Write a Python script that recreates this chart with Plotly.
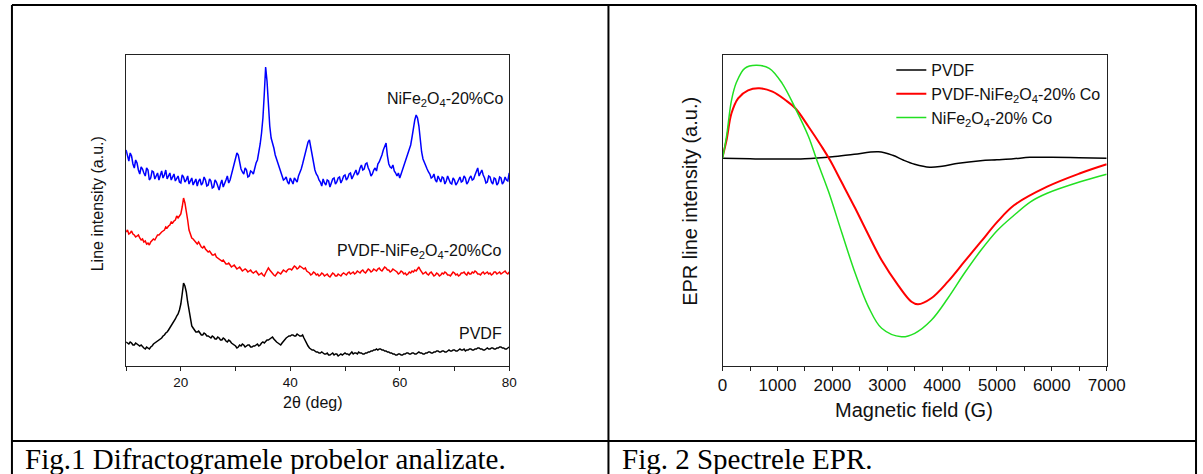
import numpy as np
import plotly.graph_objects as go

# ===== canvas =====
# positions below are given in reference pixels (1203 x 474) and turned into paper fractions
REF_W, REF_H = 1203, 474
W, H = 1218, 474


def px(x):
    return x / REF_W


def py(y):
    return 1 - y / REF_H


# ===== Fig.1 XRD data (a.u.), 2theta from 10 to 80 deg every 0.25 deg =====
two_theta = np.round(np.arange(10, 80.001, 0.25), 2)

xrd_ferrite = [
    216, 209, 205, 213, 210, 202, 198, 206, 203, 196,
    192, 199, 197, 193, 190, 198, 196, 186, 188, 195,
    194, 187, 190, 193, 186, 191, 195, 188, 191, 196,
    187, 190, 193, 186, 189, 192, 185, 188, 190, 184,
    183, 191, 189, 184, 186, 190, 182, 185, 188, 181,
    184, 187, 180, 185, 187, 181, 183, 189, 186, 180,
    181, 187, 185, 178, 179, 186, 184, 180, 176, 182,
    186, 179, 182, 186, 190, 183, 186, 191, 196, 201,
    206, 213, 211, 203, 197, 194, 192, 198, 196, 189,
    190, 195, 194, 192, 198, 203, 206, 213, 222, 233,
    248, 272, 299, 285, 258, 240, 228, 224, 218, 211,
    207, 201, 198, 193, 191, 186, 187, 189, 184, 182,
    188, 184, 182, 188, 186, 184, 190, 193, 197, 202,
    207, 212, 219, 224, 226, 218, 208, 201, 196, 192,
    190, 186, 184, 180, 187, 183, 181, 186, 185, 179,
    183, 187, 188, 182, 184, 188, 189, 183, 186, 190,
    191, 186, 188, 192, 193, 187, 190, 194, 196, 191,
    193, 198, 201, 196, 197, 202, 203, 198, 195, 190,
    192, 196, 198, 195, 202, 204, 207, 211, 216, 220,
    223, 210, 202, 199, 198, 201, 195, 193, 190, 193,
    188, 192, 196, 199, 203, 208, 212, 216, 221, 229,
    238, 246, 251, 248, 240, 226, 214, 207, 203, 199,
    197, 194, 192, 188, 189, 192, 186, 184, 190, 187,
    184, 189, 188, 182, 185, 190, 187, 183, 182, 188,
    186, 181, 183, 187, 189, 184, 185, 190, 188, 182,
    184, 188, 190, 186, 187, 191, 194, 198, 190, 193,
    196, 191, 188, 183, 184, 190, 189, 184, 182, 188,
    187, 181, 183, 189, 188, 182, 184, 189, 186, 185,
    193,
]

xrd_composite = [
    134, 136, 132, 133, 135, 132, 131, 129, 130, 131,
    128, 126, 127, 124, 125, 122, 123, 121, 124, 126,
    127, 126, 129, 131, 131, 133, 134, 135, 136, 139,
    138, 140, 141, 144, 143, 145, 146, 150, 148, 150,
    152, 159, 168, 163, 156, 146, 136, 131, 128, 127,
    125, 123, 122, 124, 121, 119, 118, 120, 117, 115,
    114, 115, 113, 111, 111, 112, 109, 108, 107, 106,
    105, 106, 104, 102, 102, 103, 101, 99, 100, 101,
    99, 97, 98, 99, 97, 95, 96, 97, 96, 94,
    95, 96, 94, 93, 94, 95, 93, 91, 92, 93,
    91, 90, 93, 95, 98, 96, 94, 92, 91, 90,
    92, 94, 93, 92, 94, 96, 95, 94, 96, 97,
    97, 96, 98, 100, 99, 97, 98, 100, 99, 98,
    97, 98, 95, 94, 93, 91, 92, 94, 93, 91,
    92, 90, 91, 93, 92, 90, 91, 92, 90, 89,
    91, 93, 92, 90, 90, 92, 91, 90, 92, 93,
    92, 91, 93, 94, 92, 93, 94, 92, 93, 95,
    94, 93, 95, 96, 94, 93, 95, 97, 96, 94,
    95, 97, 96, 95, 97, 98, 96, 95, 97, 99,
    98, 96, 96, 94, 95, 97, 96, 95, 94, 92,
    93, 95, 94, 92, 93, 91, 92, 94, 93, 95,
    94, 96, 95, 97, 99, 96, 94, 92, 93, 94,
    92, 91, 93, 94, 92, 90, 91, 93, 92, 90,
    91, 93, 92, 94, 93, 91, 91, 90, 92, 94,
    93, 91, 92, 90, 91, 93, 93, 94, 92, 91,
    94, 92, 92, 94, 93, 95, 94, 92, 92, 91,
    93, 94, 92, 93, 94, 92, 93, 91, 92, 94,
    94, 92, 93, 94, 92, 93, 94, 95, 93, 92,
    94,
]

xrd_pvdf = [
    24, 23, 22, 24, 23, 21, 21, 23, 22, 21,
    20, 21, 19, 18, 17, 19, 18, 17, 19, 20,
    22, 23, 24, 25, 26, 27, 28, 30, 31, 33,
    34, 36, 38, 41, 43, 44, 47, 50, 52, 56,
    62, 72, 83, 80, 74, 64, 55, 46, 40, 38,
    36, 34, 34, 35, 33, 31, 31, 33, 32, 30,
    30, 29, 28, 30, 29, 27, 27, 29, 28, 26,
    26, 28, 27, 25, 24, 26, 25, 23, 22, 21,
    20, 18, 19, 21, 20, 22, 21, 19, 20, 21,
    21, 19, 19, 20, 20, 21, 22, 20, 21, 23,
    24, 23, 25, 26, 26, 27, 28, 29, 27, 25,
    24, 23, 22, 21, 23, 25, 27, 28, 29, 30,
    30, 31, 31, 30, 30, 32, 31, 30, 30, 31,
    28, 25, 22, 20, 18, 17, 16, 16, 15, 14,
    14, 13, 13, 14, 13, 12, 12, 13, 11, 11,
    12, 13, 11, 12, 12, 10, 11, 12, 11, 12,
    13, 12, 12, 11, 13, 14, 12, 13, 13, 12,
    14, 13, 13, 12, 12, 13, 13, 14, 14, 15,
    15, 16, 16, 17, 16, 17, 17, 16, 16, 15,
    15, 14, 14, 13, 13, 12, 12, 11, 11, 12,
    12, 11, 11, 12, 12, 13, 13, 12, 12, 13,
    13, 12, 12, 13, 14, 13, 13, 12, 12, 13,
    13, 14, 14, 13, 13, 14, 14, 15, 15, 14,
    14, 15, 15, 14, 14, 15, 16, 15, 15, 16,
    16, 15, 15, 16, 17, 16, 16, 17, 15, 16,
    16, 17, 17, 16, 16, 17, 17, 18, 18, 17,
    17, 16, 16, 17, 18, 17, 17, 18, 18, 17,
    17, 18, 18, 19, 19, 18, 18, 17, 17, 18,
    19,
]

# ===== Fig.2 EPR data (a.u.) =====
epr_pvdf_field = [0, 500, 1000, 1500, 2000, 2400, 2840, 3100, 3300, 3500,
                  3775, 4000, 4300, 4700, 5000, 5300, 5600, 6000, 6500, 7000]
epr_pvdf = [0, -0.5, -0.8, -0.5, 1.5, 4, 6.5, 3, -2, -6,
            -9, -8, -5, -2.5, -1.5, -0.5, 1, 1, 0.5, 0]

epr_comp_field = [0, 71, 162, 283, 464, 669, 910, 1150, 1326, 1567,
                  1808, 1959, 2170, 2417, 2598, 2899, 3200, 3442, 3562, 3803,
                  4105, 4406, 4708, 5010, 5311, 5915, 6517, 7000]
epr_comp = [1.5, 18, 45, 60, 68, 70, 66.6, 58, 50, 31.6,
            11.6, -2, -24, -50, -70, -102, -127, -143.4, -146, -140,
            -123.4, -103.4, -83.4, -63.4, -47, -28.4, -15, -6]

epr_ferr_field = [0, 71, 162, 253, 404, 609, 850, 1085, 1326, 1567,
                  1718, 1929, 2176, 2417, 2658, 2899, 3261, 3502, 3803, 4105,
                  4406, 4708, 5010, 5311, 5612, 5915, 6517, 7000]
epr_ferr = [0, 21.6, 58, 76, 90, 93, 90, 75, 50, 21.6,
            -2, -33, -75, -115, -148.5, -170, -178.5, -175, -162, -140,
            -115, -92, -72, -57, -43.5, -35, -23.5, -16]

SANS = "Liberation Sans, Arial, sans-serif"
SERIF = "Liberation Serif, Times New Roman, serif"

fig = go.Figure()

# ----- XRD traces -----
fig.add_trace(go.Scatter(x=two_theta, y=xrd_ferrite, mode="lines",
                         line=dict(color="#0000ff", width=1.5),
                         showlegend=False, xaxis="x", yaxis="y"))
fig.add_trace(go.Scatter(x=two_theta, y=xrd_composite, mode="lines",
                         line=dict(color="#ff0000", width=1.5),
                         showlegend=False, xaxis="x", yaxis="y"))
fig.add_trace(go.Scatter(x=two_theta, y=xrd_pvdf, mode="lines",
                         line=dict(color="#000000", width=1.5),
                         showlegend=False, xaxis="x", yaxis="y"))

# ----- EPR traces -----
fig.add_trace(go.Scatter(x=epr_pvdf_field, y=epr_pvdf, mode="lines", name="PVDF",
                         line=dict(color="#000000", width=1.5, shape="spline"),
                         xaxis="x2", yaxis="y2"))
fig.add_trace(go.Scatter(x=epr_comp_field, y=epr_comp, mode="lines",
                         name="PVDF-NiFe<sub>2</sub>O<sub>4</sub>-20% Co",
                         line=dict(color="#ff0000", width=2, shape="spline"),
                         xaxis="x2", yaxis="y2"))
fig.add_trace(go.Scatter(x=epr_ferr_field, y=epr_ferr, mode="lines",
                         name="NiFe<sub>2</sub>O<sub>4</sub>-20% Co",
                         line=dict(color="#22e022", width=1.5, shape="spline"),
                         xaxis="x2", yaxis="y2"))

frame = dict(showline=True, linecolor="#222", linewidth=1, mirror=True,
             showgrid=False, zeroline=False)

fig.update_layout(
    width=W, height=H, autosize=False,
    margin=dict(l=0, r=0, t=0, b=0),
    paper_bgcolor="white", plot_bgcolor="white",
    font=dict(family=SANS, size=13, color="#111"),
    xaxis=dict(domain=[px(122), px(508)], range=[10, 80], anchor="y",
               tick0=0, dtick=20, ticks="outside", ticklen=4, tickcolor="#222",
               minor=dict(dtick=10, ticks="outside", ticklen=4, tickcolor="#222"),
               tickfont=dict(size=13.5), **frame),
    yaxis=dict(domain=[py(366), py(55)], range=[0, 311], anchor="x",
               showticklabels=False, ticks="", **frame),
    xaxis2=dict(domain=[px(723), px(1110)], range=[0, 7000], anchor="y2",
                tick0=0, dtick=1000, ticks="outside", ticklen=4, tickcolor="#222",
                minor=dict(dtick=500, ticks="outside", ticklen=4, tickcolor="#222"),
                tickfont=dict(size=17), **frame),
    yaxis2=dict(domain=[py(366), py(55)], range=[-207.7, 103.3], anchor="x2",
                showticklabels=False, ticks="", **frame),
    legend=dict(x=px(893), y=py(53), xanchor="left", yanchor="top",
                bgcolor="rgba(0,0,0,0)", font=dict(size=16, family=SANS),
                itemwidth=30, tracegroupgap=0),
)

# ----- axis titles and curve labels -----
notes = [
    dict(x=px(93), y=py(204), text="Line intensity (a.u.)", textangle=-90, size=16),
    dict(x=px(310), y=py(402), text="2θ (deg)", textangle=0, size=16),
    dict(x=px(690), y=py(201), text="EPR line intensity (a.u.)", textangle=-90, size=20),
    dict(x=px(916), y=py(410), text="Magnetic field (G)", textangle=0, size=20),
]
for n in notes:
    fig.add_annotation(x=n["x"], y=n["y"], xref="paper", yref="paper",
                       xanchor="center", yanchor="middle",
                       text=n["text"], textangle=n["textangle"], showarrow=False,
                       font=dict(size=n["size"], family=SANS, color="#111"))

labels = [
    (px(505), py(99), "NiFe<sub>2</sub>O<sub>4</sub>-20%Co"),
    (px(503), py(252), "PVDF-NiFe<sub>2</sub>O<sub>4</sub>-20%Co"),
    (px(503), py(333), "PVDF"),
]
for x, y, t in labels:
    fig.add_annotation(x=x, y=y, xref="paper", yref="paper", text=t,
                       xanchor="right", yanchor="middle", showarrow=False,
                       font=dict(size=16, family=SANS, color="#111"))

# ----- captions -----
fig.add_annotation(x=px(18), y=py(459), xref="paper", yref="paper",
                   text="Fig.1 Difractogramele probelor analizate.",
                   xanchor="left", yanchor="middle", showarrow=False,
                   font=dict(size=29, family=SERIF, color="black"))
fig.add_annotation(x=px(620), y=py(459), xref="paper", yref="paper",
                   text="Fig. 2 Spectrele EPR.",
                   xanchor="left", yanchor="middle", showarrow=False,
                   font=dict(size=29, family=SERIF, color="black"))

# ----- table borders -----
border = dict(color="black", width=2)
for x0, y0, x1, y1 in [(7, 5, 1200, 5), (7, 441, 1200, 441),
                       (7, 5, 7, 474), (608, 5, 608, 474), (1200, 5, 1200, 474)]:
    fig.add_shape(type="line", xref="paper", yref="paper",
                  x0=px(x0), y0=py(y0), x1=px(x1), y1=py(y1), line=border)

# page body has a default 8px margin; drop it so the figure sits at 0,0
fig.write_html("out.html",
               config={"displayModeBar": False},
               post_script="document.documentElement.style.overflow='hidden';"
                           "document.body.style.margin='0';"
                           "document.body.style.overflow='hidden';")
